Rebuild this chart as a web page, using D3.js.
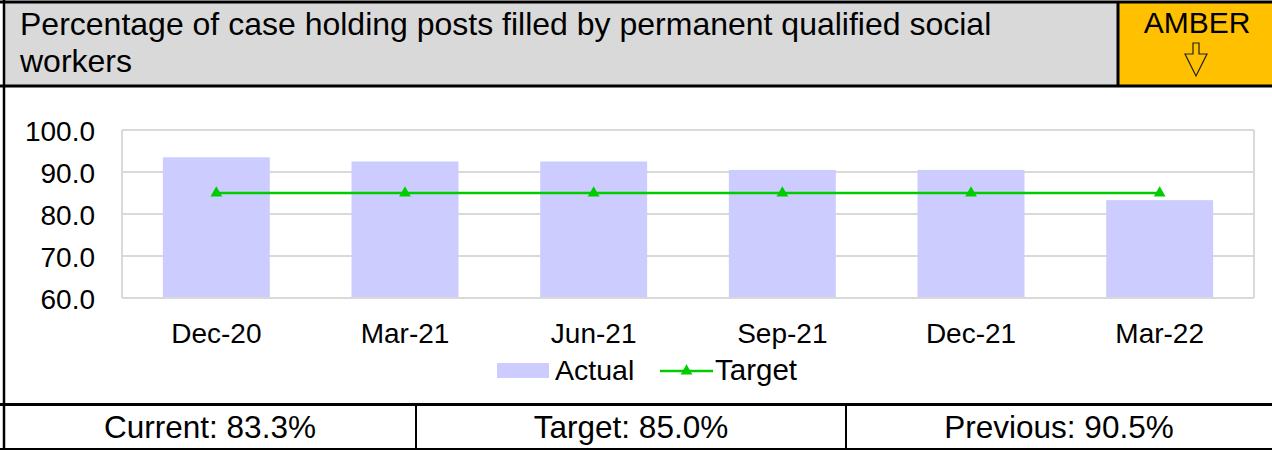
<!DOCTYPE html>
<html>
<head>
<meta charset="utf-8">
<script src="https://cdn.jsdelivr.net/npm/d3@7"></script>
<style>
  body { margin: 0; background: #fff; }
  svg text { font-family: "Liberation Sans", Arial, sans-serif; fill: #000; }
</style>
</head>
<body>
<svg id="chart" width="1272" height="450"></svg>
<script>
const titleLines = ["Percentage of case holding posts filled by permanent qualified social", "workers"];
const ragStatus = "AMBER";
const categories = ["Dec-20", "Mar-21", "Jun-21", "Sep-21", "Dec-21", "Mar-22"];
const actualValues = [93.5, 92.5, 92.5, 90.5, 90.5, 83.3];
const targetValues = [85.0, 85.0, 85.0, 85.0, 85.0, 85.0];
const yTicks = [60, 70, 80, 90, 100];
const footerTexts = ["Current: 83.3%", "Target: 85.0%", "Previous: 90.5%"];
const seriesNames = ["Actual", "Target"];

const svg = d3.select("#chart");
const W = 1272, H = 450;

// Header
svg.append("rect").attr("x", 4).attr("y", 2).attr("width", 1114).attr("height", 84).attr("fill", "#d9d9d9");
svg.append("rect").attr("x", 1118).attr("y", 2).attr("width", 154).attr("height", 84).attr("fill", "#ffc000");

const title = svg.append("text").attr("font-size", 32);
titleLines.forEach((t, i) => {
  title.append("tspan").attr("x", 20).attr("y", 35 + i * 37).text(t);
});
svg.append("text").attr("x", 1197).attr("y", 33).attr("text-anchor", "middle").attr("font-size", 30).text(ragStatus);

// hollow down arrow
const arrowPath = d3.path();
arrowPath.moveTo(1193, 43); arrowPath.lineTo(1199, 43); arrowPath.lineTo(1199, 54);
arrowPath.lineTo(1207, 54); arrowPath.lineTo(1196, 76); arrowPath.lineTo(1185, 54);
arrowPath.lineTo(1193, 54); arrowPath.closePath();
svg.append("path").attr("d", arrowPath.toString()).attr("fill", "none").attr("stroke", "#222").attr("stroke-width", 1.2);

// Plot
const plotL = 122, plotR = 1254, plotT = 130, plotB = 298;
const xc = d3.scaleBand().domain(categories).range([plotL, plotR]);
const y = d3.scaleLinear().domain([60, 100]).range([plotB, plotT]);
const barW = xc.bandwidth() * 0.567;

// gridlines
svg.append("g").selectAll("line").data(yTicks).join("line")
  .attr("x1", plotL).attr("x2", plotR).attr("y1", d => y(d)).attr("y2", d => y(d))
  .attr("stroke", "#d9d9d9").attr("stroke-width", 2);
svg.append("line").attr("x1", plotL).attr("x2", plotL).attr("y1", plotT).attr("y2", plotB).attr("stroke", "#d9d9d9").attr("stroke-width", 2);
svg.append("line").attr("x1", plotR).attr("x2", plotR).attr("y1", plotT).attr("y2", plotB).attr("stroke", "#d9d9d9").attr("stroke-width", 2);

// bars
svg.append("g").selectAll("rect").data(actualValues).join("rect")
  .attr("x", (d, i) => xc(categories[i]) + xc.bandwidth() / 2 - barW / 2)
  .attr("width", barW)
  .attr("y", d => y(d)).attr("height", d => plotB - 1 - y(d))
  .attr("fill", "#ccccff");

// target line
const line = d3.line().x((d, i) => xc(categories[i]) + xc.bandwidth() / 2).y(d => y(d));
svg.append("path").datum(targetValues).attr("d", line).attr("fill", "none").attr("stroke", "#00cc00").attr("stroke-width", 2.5);
const tri = d3.symbol().type(d3.symbolTriangle).size(60);
svg.append("g").selectAll("path").data(targetValues).join("path")
  .attr("transform", (d, i) => `translate(${xc(categories[i]) + xc.bandwidth() / 2},${y(d)})`)
  .attr("d", tri).attr("fill", "#00cc00");

// y axis
const yAxis = d3.axisLeft(y).tickValues(yTicks).tickFormat(d3.format(".1f")).tickSize(0).tickPadding(0);
const gy = svg.append("g").attr("transform", `translate(95,0)`).call(yAxis);
gy.select(".domain").remove();
gy.selectAll("text").attr("font-size", 28).attr("dy", "0.36em").style("font-family", '"Liberation Sans", Arial, sans-serif').attr("fill", "#000");

// x axis
const xAxis = d3.axisBottom(xc).tickSize(0).tickPadding(0);
const gx = svg.append("g").attr("transform", `translate(0,323)`).call(xAxis);
gx.select(".domain").remove();
gx.selectAll("text").attr("font-size", 28).attr("dy", "0.71em").style("font-family", '"Liberation Sans", Arial, sans-serif').attr("fill", "#000");

// legend
svg.append("rect").attr("x", 497).attr("y", 363).attr("width", 52).attr("height", 15).attr("fill", "#ccccff");
svg.append("text").attr("x", 555).attr("y", 380).attr("font-size", 28.5).text(seriesNames[0]);
svg.append("line").attr("x1", 660).attr("x2", 713).attr("y1", 371).attr("y2", 371).attr("stroke", "#00cc00").attr("stroke-width", 2.5);
svg.append("path").attr("transform", "translate(686.5,371)").attr("d", tri).attr("fill", "#00cc00");
svg.append("text").attr("x", 715).attr("y", 380).attr("font-size", 29.5).text(seriesNames[1]);

// footer
const cells = [[4, 416], [416, 846], [846, 1272]];
svg.append("g").selectAll("text").data(footerTexts).join("text")
  .attr("x", (d, i) => (cells[i][0] + cells[i][1]) / 2).attr("y", 438)
  .attr("text-anchor", "middle").attr("font-size", 31.5).text(d => d);

// borders
const bc = "#000";
svg.append("line").attr("x1", 0).attr("x2", W).attr("y1", 2).attr("y2", 2).attr("stroke", bc).attr("stroke-width", 3);
svg.append("line").attr("x1", 0).attr("x2", W).attr("y1", 86).attr("y2", 86).attr("stroke", bc).attr("stroke-width", 3);
svg.append("line").attr("x1", 1118).attr("x2", 1118).attr("y1", 2).attr("y2", 86).attr("stroke", bc).attr("stroke-width", 3);
svg.append("line").attr("x1", 4).attr("x2", 4).attr("y1", 0).attr("y2", H).attr("stroke", bc).attr("stroke-width", 2.5);
svg.append("line").attr("x1", 0).attr("x2", W).attr("y1", 404.5).attr("y2", 404.5).attr("stroke", bc).attr("stroke-width", 3);
svg.append("line").attr("x1", 0).attr("x2", W).attr("y1", 449).attr("y2", 449).attr("stroke", bc).attr("stroke-width", 2);
svg.append("line").attr("x1", 416).attr("x2", 416).attr("y1", 404).attr("y2", H).attr("stroke", bc).attr("stroke-width", 2);
svg.append("line").attr("x1", 846).attr("x2", 846).attr("y1", 404).attr("y2", H).attr("stroke", bc).attr("stroke-width", 2);
</script>
</body>
</html>
